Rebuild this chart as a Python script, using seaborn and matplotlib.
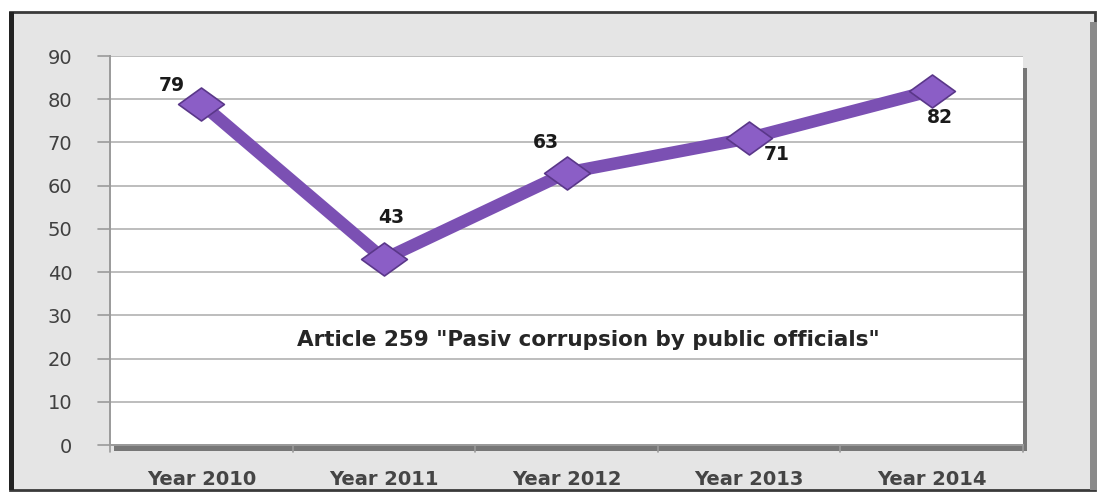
import matplotlib
matplotlib.use("Agg")
import matplotlib.pyplot as plt
import matplotlib.patches as mpatches
from matplotlib.path import Path
import seaborn as sns
import pandas as pd

years = ["Year 2010", "Year 2011", "Year 2012", "Year 2013", "Year 2014"]
cases = [79, 43, 63, 71, 82]
y_ticks = [0, 10, 20, 30, 40, 50, 60, 70, 80, 90]
title_text = 'Article 259 "Pasiv corrupsion by public officials"'

# label offsets (points) for each data label
label_offsets = [(-21, 13), (5, 30), (-15, 21.5), (20, -12), (6, -19.5)]

sns.set_theme(style="white")
plt.rcParams["font.family"] = ["DejaVu Sans"]

df = pd.DataFrame({"year": years, "cases": cases})

fig = plt.figure(figsize=(11.02, 4.94), dpi=100)
fig.patch.set_facecolor("white")

W, H = 1102, 494

# outer chart frame with light gray fill
frame = mpatches.Rectangle((10 / W, 4 / H), 1085 / W, 478 / H,
                           transform=fig.transFigure, facecolor="#e5e5e5",
                           edgecolor="#3a3a3a", linewidth=2.0, zorder=0)
fig.patches.append(frame)
left_edge = mpatches.Rectangle((9 / W, 4 / H), 5 / W, 478 / H,
                               transform=fig.transFigure, facecolor="#222222",
                               edgecolor="none", zorder=1)
fig.patches.append(left_edge)
right_edge = mpatches.Rectangle((1090 / W, 4 / H), 7 / W, 468 / H,
                                transform=fig.transFigure, facecolor="#8a8a8a",
                                edgecolor="none", zorder=1)
fig.patches.append(right_edge)

ax_left, ax_right = 110 / W, 1023 / W
ax_bottom, ax_top = 1 - 445 / H, 1 - 56 / H

# drop shadow behind the plot area
shadow = mpatches.Rectangle((ax_left + 4 / W, ax_bottom - 6 / H),
                            ax_right - ax_left, ax_top - ax_bottom - 6 / H,
                            transform=fig.transFigure, facecolor="#777777",
                            edgecolor="none", zorder=1)
fig.patches.append(shadow)

ax = fig.add_axes([ax_left, ax_bottom, ax_right - ax_left, ax_top - ax_bottom])
ax.set_facecolor("white")
ax.set_zorder(2)

# flattened diamond marker
diamond = Path([(0, -0.72), (1, 0), (0, 0.72), (-1, 0), (0, -0.72)],
               [Path.MOVETO, Path.LINETO, Path.LINETO, Path.LINETO, Path.CLOSEPOLY])

sns.lineplot(data=df, x="year", y="cases", ax=ax, color="#7b50b3",
             linewidth=9, marker=diamond, markersize=33,
             markerfacecolor="#8b5ec6", markeredgecolor="#5a3789",
             markeredgewidth=1.2, sort=False)

ax.set_xlim(-0.5, len(years) - 0.5)
ax.set_ylim(0, 90)
ax.set_yticks(y_ticks)
ax.yaxis.grid(True, color="#bdbdbd", linewidth=1.4)
ax.set_axisbelow(True)
ax.set_xlabel("")
ax.set_ylabel("")

for side in ["top", "right"]:
    ax.spines[side].set_visible(False)
ax.spines["left"].set_color("#9a9a9a")
ax.spines["bottom"].set_color("#9a9a9a")
ax.spines["left"].set_linewidth(1.4)
ax.spines["bottom"].set_linewidth(1.4)

ax.tick_params(axis="y", labelsize=14, labelcolor="#404040", left=False, pad=21)
ax.tick_params(axis="x", labelsize=14, labelcolor="#454545", bottom=False, pad=12)
for lbl in ax.get_xticklabels():
    lbl.set_fontweight("bold")

# category separator ticks on the x axis
for b in range(len(years) + 1):
    ax.plot([b - 0.5, b - 0.5], [0, -1.6], color="#9a9a9a", lw=1.2,
            clip_on=False, zorder=1)
for t in y_ticks:
    ax.plot([-0.5 - 0.065, -0.5], [t, t], color="#9a9a9a", lw=1.2,
            clip_on=False, zorder=1)

for i, (v, off) in enumerate(zip(cases, label_offsets)):
    ax.annotate(str(v), (i, v), xytext=off, textcoords="offset points",
                ha="center", va="center", fontsize=13.5, fontweight="bold",
                color="#1a1a1a")

ax.text(2.12, 24.2, title_text, ha="center", va="center", fontsize=15.5,
        fontweight="bold", color="#262626")

fig.savefig("out.png", dpi=100)
